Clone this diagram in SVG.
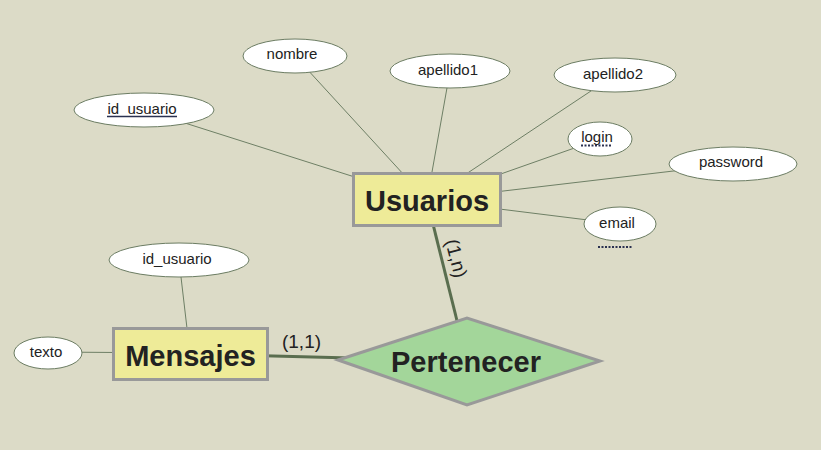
<svg xmlns="http://www.w3.org/2000/svg" width="821" height="450" viewBox="0 0 821 450">
<style>
.attr{fill:#fff;stroke:#6b7c62;stroke-width:1}
.at{font-family:"Liberation Sans",Arial,sans-serif;font-size:15px;fill:#222;text-anchor:middle}
.ent{fill:#eeeb98;stroke:#999;stroke-width:3}
.rel{fill:#a3d69a;stroke:#999;stroke-width:3}
.big{font-family:"Liberation Sans",Arial,sans-serif;font-size:29px;font-weight:bold;fill:#222;text-anchor:middle}
.ln{stroke:#6e7f65;stroke-width:1;fill:none}
.rl{stroke:#5a6e4f;stroke-width:3;fill:none}
.card{font-family:"Liberation Sans",Arial,sans-serif;font-size:19px;fill:#222;text-anchor:middle}
</style>
<rect width="821" height="450" fill="#dcdbc7"/>
<g id="connectors">
<line class="ln" x1="144" y1="110" x2="427" y2="200"/>
<line class="ln" x1="295" y1="56" x2="427" y2="200"/>
<line class="ln" x1="450" y1="71" x2="427" y2="200"/>
<line class="ln" x1="615" y1="75" x2="427" y2="200"/>
<line class="ln" x1="600" y1="139" x2="427" y2="200"/>
<line class="ln" x1="733" y1="164" x2="427" y2="200"/>
<line class="ln" x1="620" y1="224" x2="427" y2="200"/>
<line class="ln" x1="179" y1="260" x2="190" y2="354"/>
<line class="ln" x1="48" y1="352" x2="190" y2="353"/>
<line class="rl" x1="427" y1="200" x2="467" y2="361"/>
<line class="rl" x1="190" y1="354" x2="467" y2="361"/>
<text class="card" transform="translate(450,260) rotate(76)">(1,n)</text>
<text class="card" x="301.5" y="348">(1,1)</text>
</g>
<g id="attr_id_usuario_u">
<ellipse class="attr" cx="144" cy="110" rx="70" ry="17"/>
<text class="at" x="142" y="114">id_usuario</text>
<line x1="107" y1="116.5" x2="177" y2="116.5" stroke="#2a3150" stroke-width="1.5"/>
</g>
<g id="attr_nombre">
<ellipse class="attr" cx="295" cy="56" rx="52" ry="17"/>
<text class="at" x="292" y="59">nombre</text>
</g>
<g id="attr_apellido1">
<ellipse class="attr" cx="450" cy="71" rx="60" ry="17"/>
<text class="at" x="448" y="75">apellido1</text>
</g>
<g id="attr_apellido2">
<ellipse class="attr" cx="615" cy="75" rx="61" ry="17"/>
<text class="at" x="613" y="79">apellido2</text>
</g>
<g id="attr_login">
<ellipse class="attr" cx="600" cy="139" rx="32" ry="17"/>
<text class="at" x="597" y="142">login</text>
<line x1="581" y1="145.5" x2="612" y2="145.5" stroke="#2a3150" stroke-width="2" stroke-dasharray="2,1.5"/>
</g>
<g id="attr_password">
<ellipse class="attr" cx="733" cy="164" rx="64" ry="17"/>
<text class="at" x="731" y="167">password</text>
</g>
<g id="attr_email">
<ellipse class="attr" cx="620" cy="224" rx="36" ry="17"/>
<text class="at" x="617" y="228">email</text>
<line x1="598" y1="247" x2="633" y2="247" stroke="#2a3150" stroke-width="2" stroke-dasharray="2,1.5"/>
</g>
<g id="attr_id_usuario_m">
<ellipse class="attr" cx="179" cy="260" rx="70" ry="17"/>
<text class="at" x="177" y="264">id_usuario</text>
</g>
<g id="attr_texto">
<ellipse class="attr" cx="48" cy="353" rx="34" ry="16"/>
<text class="at" x="46" y="357">texto</text>
</g>
<g id="usuarios">
<rect class="ent" x="353.5" y="173.5" width="147" height="52"/>
<text class="big" x="427" y="211">Usuarios</text>
</g>
<g id="mensajes">
<rect class="ent" x="113.5" y="328.5" width="154" height="51"/>
<text class="big" x="190.5" y="366">Mensajes</text>
</g>
<g id="pertenecer">
<polygon class="rel" points="338,360 467,318 600,361 467,405"/>
<text class="big" x="466" y="372">Pertenecer</text>
</g>
</svg>
